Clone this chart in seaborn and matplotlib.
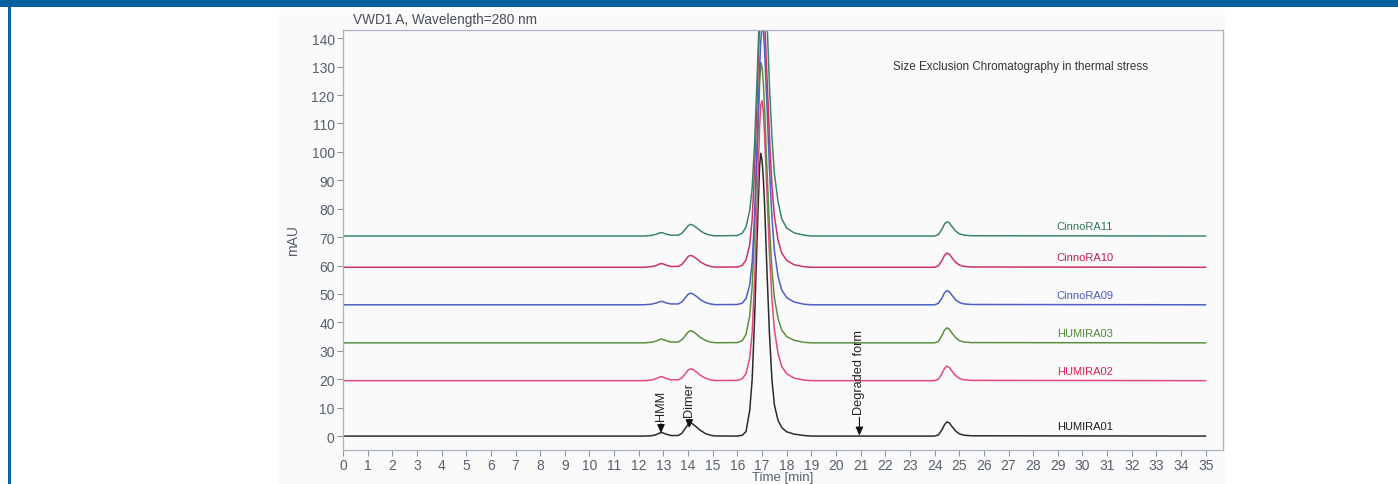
import matplotlib
matplotlib.use("Agg")
import matplotlib.pyplot as plt
from matplotlib.patches import Rectangle
import pandas as pd
import seaborn as sns

# Retention time grid (min) shared by all traces
time_min = [0.0, 12.2, 12.5, 12.7, 12.85, 12.95, 13.1, 13.3,
            13.6, 13.75, 13.9, 14.0, 14.1, 14.2, 14.35, 14.5, 14.7, 14.9, 15.1,
            16.0, 16.2, 16.35, 16.5, 16.6, 16.7, 16.8, 16.9, 16.95, 17.0, 17.05,
            17.1, 17.2, 17.3, 17.4, 17.5, 17.65, 17.8, 18.0, 18.3, 18.7, 19.0,
            24.0, 24.15, 24.3, 24.4, 24.5, 24.6, 24.7, 24.85, 25.0, 25.2, 25.5,
            35.0]

samples = ["HUMIRA01", "HUMIRA02", "HUMIRA03", "CinnoRA09", "CinnoRA10", "CinnoRA11"]

# Vertical offset of each overlaid chromatogram (mAU)
offsets = [0.0, 19.5, 32.8, 46.2, 59.4, 70.4]

# Absorbance above each trace's own baseline (mAU)
humira01 = [0.0,
            0.0, 0.1, 0.5, 1.1, 1.2, 0.7, 0.2,
            0.2, 1.0, 2.9, 4.1, 4.6, 4.2, 3.1, 2.0, 0.9, 0.3, 0.05,
            0.0, 0.3, 1.6, 9.0, 20.0, 42.0, 70.0, 95.0, 99.5, 97.0, 91.0,
            82.0, 58.0, 36.0, 20.0, 11.0, 5.5, 3.0, 1.5, 0.7, 0.2, 0.0,
            0.0, 0.4, 2.2, 4.0, 5.0, 4.6, 3.4, 1.8, 0.8, 0.3, 0.1,
            0.0]
humira02 = [0.0,
            0.0, 0.2, 0.7, 1.3, 1.4, 0.8, 0.3,
            0.3, 1.0, 2.6, 3.7, 4.2, 3.9, 3.0, 1.9, 0.9, 0.3, 0.05,
            0.1, 0.7, 2.5, 8.0, 17.0, 36.0, 62.0, 89.0, 97.0, 98.5, 95.0,
            87.0, 66.0, 45.0, 29.0, 18.0, 9.5, 5.0, 2.4, 0.9, 0.2, 0.0,
            0.0, 0.5, 2.5, 4.3, 5.1, 4.6, 3.4, 1.8, 0.8, 0.3, 0.1,
            0.0]
humira03 = [0.0,
            0.0, 0.2, 0.6, 1.2, 1.3, 0.8, 0.3,
            0.3, 1.1, 2.7, 3.8, 4.3, 4.0, 3.0, 1.9, 0.9, 0.3, 0.05,
            0.1, 0.8, 3.0, 9.5, 20.0, 40.0, 66.0, 91.0, 98.6, 97.0, 92.0,
            83.0, 61.0, 41.0, 26.0, 16.0, 8.5, 4.5, 2.2, 0.9, 0.2, 0.0,
            0.0, 0.5, 2.6, 4.5, 5.3, 4.8, 3.5, 1.9, 0.8, 0.3, 0.1,
            0.0]
cinnora09 = [0.0,
             0.0, 0.2, 0.6, 1.1, 1.2, 0.7, 0.3,
             0.3, 1.0, 2.6, 3.7, 4.1, 3.8, 2.9, 1.8, 0.8, 0.3, 0.05,
             0.1, 0.6, 2.2, 7.0, 15.0, 32.0, 57.0, 83.0, 93.0, 99.0, 97.0,
             90.0, 70.0, 48.0, 31.0, 19.0, 10.0, 5.2, 2.5, 1.0, 0.2, 0.0,
             0.0, 0.5, 2.4, 4.2, 5.0, 4.6, 3.4, 1.8, 0.8, 0.3, 0.1,
             0.0]
cinnora10 = [0.0,
             0.0, 0.2, 0.6, 1.2, 1.3, 0.8, 0.3,
             0.3, 1.0, 2.6, 3.8, 4.2, 3.9, 3.0, 1.9, 0.9, 0.3, 0.05,
             0.1, 0.7, 2.6, 8.0, 17.0, 35.0, 60.0, 86.0, 95.0, 99.2, 96.0,
             88.0, 67.0, 46.0, 29.0, 18.0, 9.5, 5.0, 2.4, 0.9, 0.2, 0.0,
             0.0, 0.5, 2.4, 4.2, 5.0, 4.6, 3.4, 1.8, 0.8, 0.3, 0.1,
             0.0]
cinnora11 = [0.0,
             0.0, 0.2, 0.6, 1.1, 1.2, 0.7, 0.3,
             0.3, 1.0, 2.5, 3.6, 4.1, 3.8, 2.9, 1.8, 0.8, 0.3, 0.05,
             0.2, 1.0, 3.2, 9.0, 17.0, 33.0, 56.0, 80.0, 90.0, 97.0, 99.5,
             95.0, 76.0, 53.0, 35.0, 22.0, 12.0, 6.0, 2.8, 1.1, 0.3, 0.0,
             0.0, 0.5, 2.4, 4.2, 5.0, 4.6, 3.4, 1.8, 0.8, 0.3, 0.1,
             0.0]
signals = [humira01, humira02, humira03, cinnora09, cinnora10, cinnora11]

line_colors = ["#2b2b2b", "#e24a7a", "#5b8f3e", "#4f5fc4", "#c93464", "#3b8763"]
label_colors = ["#1a1a1a", "#e0204c", "#4e8a2e", "#4a5ac0", "#c0204c", "#2e7a58"]

# Peak annotations on the reference trace
event_names = ["HMM", "Dimer", "Degraded form"]
event_times = [12.9, 14.05, 20.95]

rows = []
for name, off, sig in zip(samples, offsets, signals):
    for t, s in zip(time_min, sig):
        rows.append({"sample": name, "time": t, "mAU": off + s})
df = pd.DataFrame(rows)

sns.set_style("white")
plt.rcParams["font.family"] = ["Liberation Sans", "DejaVu Sans"]

W, H = 1398, 485
fig = plt.figure(figsize=(W / 100, H / 100), dpi=100)
fig.patch.set_facecolor("white")

# page decoration: header band, left rule, and the panel backdrop
fig.patches.append(Rectangle((279 / W, 0), (1225 - 279) / W, 1 - 10 / H,
                             transform=fig.transFigure, facecolor="#fafafa",
                             edgecolor="none", zorder=-2))
fig.patches.append(Rectangle((0, 1 - 8 / H), 1, 8 / H, transform=fig.transFigure,
                             facecolor="#05609f", edgecolor="none", zorder=-1))
fig.patches.append(Rectangle((8 / W, 0), 3 / W, 1 - 8 / H, transform=fig.transFigure,
                             facecolor="#0a64a4", edgecolor="none", zorder=-1))

ax = fig.add_axes([343 / W, 1 - 451 / H, (1223 - 343) / W, (451 - 31) / H])
ax.set_zorder(3)
ax.set_facecolor("#fafafa")

sns.lineplot(data=df, x="time", y="mAU", hue="sample", hue_order=samples,
             palette=dict(zip(samples, line_colors)), estimator=None, sort=False,
             legend=False, linewidth=1.1, ax=ax)

ax.set_xlim(0, 35.7)
ax.set_ylim(-4.9, 142.9)
ax.set_xticks(range(0, 36))
ax.set_yticks(range(0, 141, 10))

axis_grey = "#56606e"
ax.tick_params(bottom=True, left=True, direction="out", length=4, width=0.8,
               color="#8c96a6", labelcolor=axis_grey, labelsize=10, pad=2)
for sp in ax.spines.values():
    sp.set_visible(True)
    sp.set_color("#aab3c3")
    sp.set_linewidth(0.9)

ax.set_xlabel("Time [min]", color=axis_grey, fontsize=9.5, labelpad=-1)
ax.set_ylabel("mAU", color=axis_grey, fontsize=10, labelpad=8)

fig.text(353 / W, 1 - 20 / H, "VWD1 A, Wavelength=280 nm", color="#4a4f58",
         fontsize=9.8, va="center", ha="left")

ax.text(22.3, 130.1, "Size Exclusion Chromatography in thermal stress",
        color="#333333", fontsize=8.4, va="center", ha="left")

# sample names above each trace
for name, off, col in zip(samples, offsets, label_colors):
    ax.text(30.1, off + 3.5, name, color=col, fontsize=8, ha="center", va="center")

# marked peaks on the HUMIRA01 trace
tip_heights = [1.1, 2.8, 0.2]
text_bases = [5.6, 7.1, 7.8]
for name, t, tip, base in zip(event_names, event_times, tip_heights, text_bases):
    ax.annotate(name, xy=(t, tip), xytext=(t, base), rotation=90,
                ha="center", va="bottom", fontsize=9.2, color="#222222",
                arrowprops=dict(arrowstyle="-|>,head_length=0.55,head_width=0.25",
                                color="#111111", lw=0.8, shrinkA=0, shrinkB=0,
                                relpos=(0.5, 0.0)))

fig.savefig("out.png", dpi=100, facecolor=fig.get_facecolor())
